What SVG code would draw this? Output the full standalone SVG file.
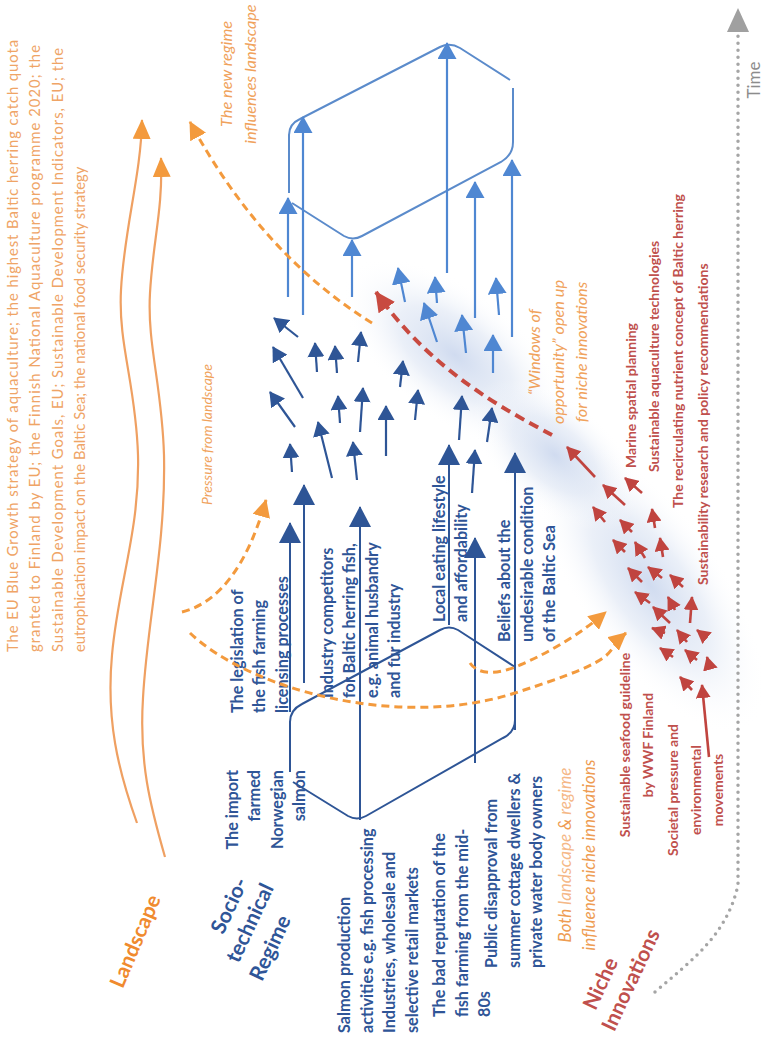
<svg xmlns="http://www.w3.org/2000/svg" width="765" height="1045" viewBox="0 0 765 1045">
<defs>
<style>
text{font-family:Lato,'Liberation Sans',sans-serif}
.ls{font-size:14.8px;fill:#EFA466}
.oi{font-size:16.3px;font-style:italic;fill:#F0A25C}
.bt{font-size:16.2px;font-weight:bold;fill:#2F5597}
.rt{font-size:14px;font-weight:bold;fill:#C0504D}
.lab{font-size:21px;font-weight:bold}
.db{stroke:#2E5596;stroke-width:2.2;fill:none;marker-end:url(#mDB)}
.dbl{stroke:#2E5596;stroke-width:2;fill:none;marker-end:url(#mDBL)}
.lb{stroke:#4F87D2;stroke-width:2.2;fill:none;marker-end:url(#mLB)}
.rd{stroke:#C0443F;stroke-width:2.6;fill:none;marker-end:url(#mR)}
.od{stroke:#F39A3D;stroke-width:3;fill:none;stroke-dasharray:8 5;marker-end:url(#mO)}
.oc{stroke:#EFA062;stroke-width:2.2;fill:none;marker-end:url(#mOC)}
.box{fill:none;stroke:#2E5596;stroke-width:2}
.lbox{fill:none;stroke:#5B8BCB;stroke-width:2}
</style>
<marker id="mDB" markerUnits="userSpaceOnUse" markerWidth="15" markerHeight="17" viewBox="0 0 15 17" refX="14" refY="8.5" orient="auto"><path d="M0,0 L15,8.5 L0,17 Z" fill="#2E5596"/></marker>
<marker id="mDBL" markerUnits="userSpaceOnUse" markerWidth="21" markerHeight="22" viewBox="0 0 21 22" refX="20" refY="11" orient="auto"><path d="M0,0 L21,11 L0,22 Z" fill="#2E5596"/></marker>
<marker id="mLB" markerUnits="userSpaceOnUse" markerWidth="17" markerHeight="19" viewBox="0 0 17 19" refX="16" refY="9.5" orient="auto"><path d="M0,0 L17,9.5 L0,19 Z" fill="#4F87D2"/></marker>
<marker id="mR" markerUnits="userSpaceOnUse" markerWidth="14" markerHeight="15" viewBox="0 0 14 15" refX="13" refY="7.5" orient="auto"><path d="M0,0 L14,7.5 L0,15 Z" fill="#C0443F"/></marker>
<marker id="mRD" markerUnits="userSpaceOnUse" markerWidth="20" markerHeight="20" viewBox="0 0 20 20" refX="19" refY="10" orient="auto"><path d="M0,0 L20,10 L0,20 Z" fill="#C84A40"/></marker>
<marker id="mO" markerUnits="userSpaceOnUse" markerWidth="18" markerHeight="18" viewBox="0 0 18 18" refX="17" refY="9" orient="auto"><path d="M0,0 L18,9 L0,18 Z" fill="#F39A3D"/></marker>
<marker id="mOC" markerUnits="userSpaceOnUse" markerWidth="20" markerHeight="18" viewBox="0 0 20 18" refX="19" refY="9" orient="auto"><path d="M0,0 L20,9 L0,18 Z" fill="#F39A3D"/></marker>
<radialGradient id="glow" cx="50%" cy="50%" r="50%">
<stop offset="0" stop-color="#C8D5ED" stop-opacity="0.85"/>
<stop offset="0.5" stop-color="#D6E0F1" stop-opacity="0.5"/>
<stop offset="1" stop-color="#FFFFFF" stop-opacity="0"/>
</radialGradient>
</defs>
<rect width="765" height="1045" fill="#FFFFFF"/>

<g id="glow-area">
<ellipse cx="455" cy="355" rx="135" ry="65" transform="rotate(38 455 355)" fill="url(#glow)"/>
<ellipse cx="650" cy="585" rx="175" ry="72" transform="rotate(55 650 585)" fill="url(#glow)"/>
<ellipse cx="555" cy="455" rx="100" ry="55" transform="rotate(40 555 455)" fill="url(#glow)"/>
</g>

<g id="landscape">
<g transform="translate(18,652) rotate(-90)">
<text class="ls"><tspan x="0" y="0" textLength="612" lengthAdjust="spacing">The EU Blue Growth strategy of aquaculture; the highest Baltic herring catch quota</tspan><tspan x="0" y="22.3" textLength="607" lengthAdjust="spacing">granted to Finland by EU; the Finnish National Aquaculture programme 2020; the</tspan><tspan x="0" y="44.6" textLength="604" lengthAdjust="spacing">Sustainable Development Goals, EU; Sustainable Development Indicators, EU; the</tspan><tspan x="0" y="67">eutrophication impact on the Baltic Sea; the national food security strategy</tspan></text>
</g>
<text class="lab" fill="#F08A2E" text-anchor="middle" transform="translate(142,944) rotate(-67)">Landscape</text>
</g>

<g id="regime-label">
<g transform="translate(250,923) rotate(-65)">
<text class="lab" fill="#2F5597" text-anchor="middle"><tspan x="7" y="-19">Socio-</tspan><tspan x="0" y="7">technical</tspan><tspan x="-14" y="36">Regime</tspan></text>
</g>
</g>

<g id="niche-label">
<g transform="translate(631,980) rotate(-65)">
<text class="lab" fill="#C0504D" text-anchor="middle"><tspan x="-16" y="-19">Niche</tspan><tspan x="0" y="7">Innovations</tspan></text>
</g>
</g>

<g id="time-axis">
<path d="M655,992 C692,960 727,935 738,885 L738,34" fill="none" stroke="#A5A5A5" stroke-width="3.5" stroke-linecap="round" stroke-dasharray="0 7"/>
<polygon points="727,32 749,32 738,8" fill="#A0A0A0"/>
<text transform="translate(760,80) rotate(-90)" text-anchor="middle" font-size="17" fill="#8C8C8C">Time</text>
</g>

<g id="orange-labels">
<g transform="translate(212,505) rotate(-90)"><text class="oi" style="font-size:14px"><tspan x="0" y="0">Pressure from landscape</tspan></text></g>
<g transform="translate(232,74) rotate(-90)"><text class="oi" text-anchor="middle"><tspan x="0" y="0">The new regime</tspan><tspan x="0" y="23.5">influences landscape</tspan></text></g>
<g transform="translate(540,352) rotate(-90)"><text class="oi" text-anchor="middle"><tspan x="0" y="0">“Windows of</tspan><tspan x="0" y="23.5">opportunity” open up</tspan><tspan x="0" y="47">for niche innovations</tspan></text></g>
<g transform="translate(571,855) rotate(-90)"><text class="oi" text-anchor="middle" style="font-size:17px"><tspan x="0" y="0" fill="#EE9C52">Both <tspan fill="#F5B887">landscape</tspan> &amp; <tspan fill="#F5B887">regime</tspan></tspan><tspan x="0" y="24" fill="#EE9C52">influence niche innovations</tspan></text></g>
</g>

<g id="regime-texts">
<g transform="translate(238,770) rotate(-90)"><text class="bt" text-anchor="end"><tspan x="0" y="0">The import</tspan><tspan x="0" y="22.3">farmed</tspan><tspan x="0" y="44.6">Norwegian</tspan><tspan x="0" y="66.9">salmon</tspan></text></g>
<g transform="translate(243,713) rotate(-90)"><text class="bt"><tspan x="0" y="0">The legislation of</tspan><tspan x="0" y="22.3">the fish farming</tspan><tspan x="0" y="44.6">licensing processes</tspan></text></g>
<g transform="translate(333,698) rotate(-90)"><text class="bt"><tspan x="0" y="0">Industry competitors</tspan><tspan x="0" y="22.3">for Baltic herring fish,</tspan><tspan x="0" y="44.6">e.g. animal husbandry</tspan><tspan x="0" y="66.9">and fur industry</tspan></text></g>
<g transform="translate(445,622) rotate(-90)"><text class="bt"><tspan x="0" y="0">Local eating lifestyle</tspan><tspan x="0" y="22.3">and affordability</tspan></text></g>
<g transform="translate(510,642) rotate(-90)"><text class="bt"><tspan x="0" y="0">Beliefs about the</tspan><tspan x="0" y="22.5">undesirable condition</tspan><tspan x="0" y="45">of the Baltic Sea</tspan></text></g>
<g transform="translate(350,1033) rotate(-90)"><text class="bt"><tspan x="0" y="0">Salmon production</tspan><tspan x="0" y="22.5">activities e.g. fish processing</tspan><tspan x="0" y="45">Industries, wholesale and</tspan><tspan x="0" y="67.5">selective retail markets</tspan></text></g>
<g transform="translate(445,1017) rotate(-90)"><text class="bt"><tspan x="0" y="0">The bad reputation of the</tspan><tspan x="0" y="22.5">fish farming from the mid-</tspan><tspan x="0" y="45">80s</tspan></text></g>
<g transform="translate(497,968) rotate(-90)"><text class="bt"><tspan x="0" y="0">Public disapproval from</tspan><tspan x="0" y="22.5">summer cottage dwellers &amp;</tspan><tspan x="0" y="45">private water body owners</tspan></text></g>
</g>

<g id="niche-texts">
<g transform="translate(636,468) rotate(-90)"><text class="rt"><tspan x="0" y="0">Marine spatial planning</tspan></text></g>
<g transform="translate(659,472) rotate(-90)"><text class="rt"><tspan x="0" y="0">Sustainable aquaculture technologies</tspan></text></g>
<g transform="translate(683,508) rotate(-90)"><text class="rt"><tspan x="0" y="0">The recirculating nutrient concept of Baltic herring</tspan></text></g>
<g transform="translate(708,585) rotate(-90)"><text class="rt"><tspan x="0" y="0">Sustainability research and policy recommendations</tspan></text></g>
<g transform="translate(630,745) rotate(-90)"><text class="rt" text-anchor="middle"><tspan x="0" y="0">Sustainable seafood guideline</tspan><tspan x="0" y="22.5">by WWF Finland</tspan></text></g>
<g transform="translate(678,790) rotate(-90)"><text class="rt" text-anchor="middle"><tspan x="0" y="0">Societal pressure and</tspan><tspan x="0" y="22.5">environmental</tspan><tspan x="0" y="45">movements</tspan></text></g>
</g>

<g id="regime-box">
<path class="box" d="M290,772 L290,722 Q290,710 302,704 L440,630 Q449,625 458,630 L515,667 L515,720 Q515,732 503,738 L366,816 Q357,821 348,816 L293,782"/>
</g>

<g id="new-regime-box">
<path class="lbox" d="M289,193 L289,135 Q289,124 300,119 L440,47 Q450,42 460,48 L510,80 M513,88 L513,142 Q513,155 501,162 L362,236 Q353,241 344,236 L292,203"/>
</g>

<g id="connectors">
<path class="oc" d="M137,823 C118,770 106,720 112,655 C118,585 140,530 138,455 C136,385 118,345 121,290 C124,230 141,175 142,120"/>
<path class="oc" d="M165,857 C150,805 139,762 143,698 C147,622 166,545 164,455 C162,385 147,345 150,293 C153,240 163,210 161,158"/>

<line class="dbl" x1="290" y1="712" x2="290" y2="523"/>
<line class="dbl" x1="304" y1="683" x2="304" y2="485"/>
<line class="dbl" x1="360" y1="820" x2="360" y2="507"/>
<line class="dbl" x1="449" y1="625" x2="449" y2="445"/>
<line class="dbl" x1="475" y1="763" x2="475" y2="538"/>
<line class="dbl" x1="515" y1="730" x2="515" y2="453"/>

<line class="db" x1="298" y1="337" x2="274" y2="318"/>
<line class="db" x1="303" y1="398" x2="273" y2="347"/>
<line class="db" x1="295" y1="427" x2="270" y2="392"/>
<line class="db" x1="292" y1="472" x2="290" y2="444"/>
<line class="db" x1="332" y1="478" x2="318" y2="422"/>
<line class="db" x1="317" y1="372" x2="315" y2="343"/>
<line class="db" x1="337" y1="373" x2="335" y2="346"/>
<line class="db" x1="358" y1="362" x2="361" y2="332"/>
<line class="db" x1="340" y1="423" x2="338" y2="396"/>
<line class="db" x1="360" y1="432" x2="363" y2="388"/>
<line class="db" x1="357" y1="480" x2="353" y2="442"/>
<line class="db" x1="386" y1="456" x2="386" y2="406"/>
<line class="db" x1="400" y1="387" x2="403" y2="361"/>
<line class="db" x1="415" y1="420" x2="418" y2="390"/>
<line class="db" x1="459" y1="440" x2="462" y2="396"/>
<line class="db" x1="487" y1="442" x2="492" y2="408"/>
<line class="db" x1="472" y1="493" x2="475" y2="450"/>

<line class="lb" x1="288" y1="297" x2="288" y2="198"/>
<line class="lb" x1="303" y1="315" x2="303" y2="117"/>
<line class="lb" x1="352" y1="297" x2="352" y2="240"/>
<line class="lb" x1="447" y1="273" x2="447" y2="43"/>
<line class="lb" x1="475" y1="318" x2="475" y2="182"/>
<line class="lb" x1="512" y1="337" x2="512" y2="160"/>
<line class="lb" x1="405" y1="302" x2="398" y2="268"/>
<line class="lb" x1="437" y1="303" x2="435" y2="277"/>
<line class="lb" x1="437" y1="342" x2="424" y2="303"/>
<line class="lb" x1="466" y1="353" x2="462" y2="315"/>
<line class="lb" x1="499" y1="315" x2="496" y2="278"/>
<line class="lb" x1="493" y1="373" x2="493" y2="335"/>

<path class="od" d="M372,323 Q262,255 190,122"/>
<path class="od" d="M182,612 Q238,598 266,500"/>
<path class="od" d="M190,633 C250,690 400,730 515,693 S600,655 626,633"/>
<path class="od" d="M470,663 C480,678 505,672 520,665 C555,650 585,630 606,612"/>

<path d="M552,435 C505,410 430,370 376,292" fill="none" stroke="#C84A40" stroke-width="4" stroke-dasharray="10 6" marker-end="url(#mRD)"/>

<line class="rd" x1="595" y1="477" x2="567" y2="447"/>
<line class="rd" x1="625" y1="505" x2="603" y2="485"/>
<line class="rd" x1="642" y1="493" x2="625" y2="478"/>
<line class="rd" x1="605" y1="522" x2="593" y2="507"/>
<line class="rd" x1="655" y1="528" x2="652" y2="509"/>
<line class="rd" x1="632" y1="532" x2="620" y2="520"/>
<line class="rd" x1="625" y1="552" x2="613" y2="540"/>
<line class="rd" x1="645" y1="558" x2="635" y2="542"/>
<line class="rd" x1="663" y1="557" x2="660" y2="538"/>
<line class="rd" x1="642" y1="582" x2="628" y2="568"/>
<line class="rd" x1="662" y1="578" x2="648" y2="567"/>
<line class="rd" x1="683" y1="587" x2="670" y2="575"/>
<line class="rd" x1="650" y1="603" x2="635" y2="592"/>
<line class="rd" x1="675" y1="610" x2="668" y2="597"/>
<line class="rd" x1="690" y1="623" x2="692" y2="597"/>
<line class="rd" x1="670" y1="623" x2="653" y2="607"/>
<line class="rd" x1="665" y1="633" x2="652" y2="628"/>
<line class="rd" x1="687" y1="642" x2="677" y2="630"/>
<line class="rd" x1="707" y1="638" x2="697" y2="630"/>
<line class="rd" x1="673" y1="657" x2="660" y2="648"/>
<line class="rd" x1="697" y1="660" x2="685" y2="650"/>
<line class="rd" x1="710" y1="668" x2="707" y2="657"/>
<line class="rd" x1="692" y1="690" x2="680" y2="677"/>
<line class="rd" x1="709" y1="757" x2="702" y2="685"/>
</g>
</svg>
